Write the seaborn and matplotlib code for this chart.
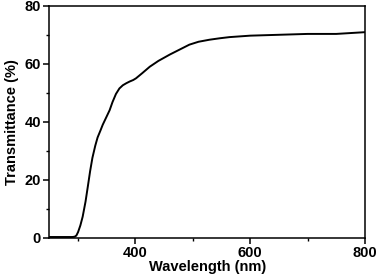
import pandas as pd
import matplotlib.pyplot as plt
import seaborn as sns
from matplotlib.ticker import MultipleLocator

wavelength = [250, 270, 290, 294, 297, 300, 304, 308, 313, 317, 321, 325, 330, 334,
              339, 343, 349, 355, 360, 366, 372, 378, 384, 390, 396, 401, 412,
              425, 440, 460, 478, 494, 510, 529, 547, 564, 600, 650, 700, 750, 800]
transmittance = [0.3, 0.3, 0.3, 0.4, 0.8, 2.0, 4.3, 7.3, 12.5, 17.7, 23.0, 27.6, 31.8, 34.6,
                 37.0, 39.0, 41.5, 44.0, 46.8, 49.6, 51.5, 52.6, 53.3, 53.9, 54.4, 55.0, 56.8,
                 59.0, 61.0, 63.2, 65.0, 66.6, 67.6, 68.3, 68.8, 69.2, 69.7, 70.0, 70.3, 70.3, 70.9]

df = pd.DataFrame({"Wavelength": wavelength, "Transmittance": transmittance})

sns.set_style("ticks")
plt.rcParams['font.family'] = ['Liberation Sans', 'DejaVu Sans']
plt.rcParams['font.weight'] = 'bold'
plt.rcParams['text.color'] = 'black'
plt.rcParams['axes.labelcolor'] = 'black'
plt.rcParams['xtick.color'] = 'black'
plt.rcParams['ytick.color'] = 'black'

fig = plt.figure(figsize=(3.77, 2.75), dpi=100)
ax = fig.add_axes([0.131, 0.135, 0.837, 0.844])

sns.lineplot(data=df, x="Wavelength", y="Transmittance", color="black",
             linewidth=1.4, ax=ax)

ax.set_xlim(250, 800)
ax.set_ylim(0, 80)
ax.xaxis.set_major_locator(MultipleLocator(200))
ax.xaxis.set_minor_locator(MultipleLocator(100))
ax.yaxis.set_major_locator(MultipleLocator(20))
ax.yaxis.set_minor_locator(MultipleLocator(10))
ax.tick_params(which='major', direction='out', length=4, width=1.1,
               labelsize=10.5, pad=2, colors='black')
ax.tick_params(which='minor', direction='out', length=2.5, width=1.0, colors='black')
for lab in ax.get_xticklabels() + ax.get_yticklabels():
    lab.set_fontweight('bold')

for s in ax.spines.values():
    s.set_linewidth(1.1)
    s.set_color('black')

ax.set_xlabel("Wavelength (nm)", fontsize=10.5, fontweight='bold', labelpad=0)
ax.set_ylabel("Transmittance (%)", fontsize=10.5, fontweight='bold', labelpad=4)

fig.savefig("out.png", dpi=100)
